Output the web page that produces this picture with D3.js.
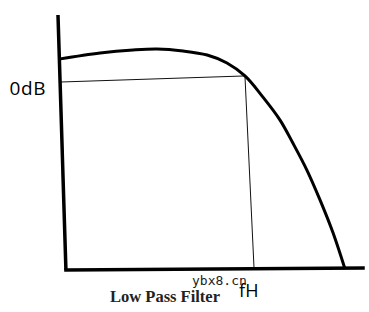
<!DOCTYPE html>
<html>
<head>
<meta charset="utf-8">
<script src="https://cdn.jsdelivr.net/npm/d3@7"></script>
<style>
  html, body { margin: 0; padding: 0; background: #fff; }
</style>
</head>
<body>
<svg id="chart" width="369" height="312"></svg>
<script>
// response curve, sketch units (x: frequency 0-100, y: gain 0-100)
const curveX = [0.3, 13.8, 24.6, 32.5, 41.0, 48.9, 55.4, 61.3, 67.2, 72.8, 77.0, 81.6, 85.9, 90.2, 94.1]
const curveY = [82.7, 85.1, 86.3, 86.7, 85.9, 84.3, 81.2, 76.1, 67.8, 58.8, 49.8, 39.2, 27.5, 14.5, 0.4]

// hand drawn axes and guide lines
const yAxisLine = [[0, 100], [2.6, 0]]
const xAxisLine = [[2.6, 0], [100, 0.8]]
const zeroDbLine = [[0.3, 73.7], [61.3, 76.1]]
const cutoffLine = [[61.3, 76.1], [64.3, 0]]

const zeroDbLabel = '0dB'
const cutoffLabel = 'fH'
const titleLabel = 'Low Pass Filter'
const watermark = 'ybx8.cn'

const width = 369
const height = 312

const x = d3.scaleLinear().domain([0, 100]).range([58, 363])
const y = d3.scaleLinear().domain([0, 100]).range([270, 15])

const svg = d3.select('#chart')

svg.append('rect')
  .attr('width', width)
  .attr('height', height)
  .attr('fill', '#fff')

const line = d3.line()
  .x((d) => x(d[0]))
  .y((d) => y(d[1]))

// thin guide lines
svg.append('path')
  .attr('d', line(zeroDbLine))
  .attr('stroke', '#111')
  .attr('stroke-width', 1)
  .attr('fill', 'none')

svg.append('path')
  .attr('d', line(cutoffLine))
  .attr('stroke', '#111')
  .attr('stroke-width', 1)
  .attr('fill', 'none')

// axes
svg.append('path')
  .attr('d', line(yAxisLine))
  .attr('stroke', '#000')
  .attr('stroke-width', 3.5)
  .attr('fill', 'none')

svg.append('path')
  .attr('d', line(xAxisLine))
  .attr('stroke', '#000')
  .attr('stroke-width', 3.5)
  .attr('stroke-linecap', 'square')
  .attr('fill', 'none')

// the response curve
const curveData = curveX.map((v, i) => [v, curveY[i]])
svg.append('path')
  .attr('d', line.curve(d3.curveCatmullRom)(curveData))
  .attr('stroke', '#000')
  .attr('stroke-width', 3)
  .attr('fill', 'none')

// labels
svg.append('text')
  .attr('x', x(0) - 12)
  .attr('y', y(zeroDbLine[0][1]) + 13)
  .attr('text-anchor', 'end')
  .attr('font-family', 'Open Sans, sans-serif')
  .attr('font-size', 19)
  .attr('letter-spacing', 0.6)
  .attr('fill', '#000')
  .text(zeroDbLabel)

svg.append('text')
  .attr('x', 110)
  .attr('y', 302)
  .attr('font-family', 'Liberation Serif, serif')
  .attr('font-weight', 'bold')
  .attr('font-size', 16.5)
  .attr('fill', '#222')
  .text(titleLabel)

svg.append('text')
  .attr('x', x(cutoffLine[1][0]) - 15)
  .attr('y', 297)
  .attr('font-family', 'Open Sans, sans-serif')
  .attr('font-size', 18)
  .attr('fill', '#000')
  .text(cutoffLabel)

svg.append('text')
  .attr('x', 192)
  .attr('y', 285)
  .attr('font-family', 'DejaVu Sans Mono, monospace')
  .attr('font-size', 13)
  .attr('fill', '#222')
  .text(watermark)
</script>
</body>
</html>
